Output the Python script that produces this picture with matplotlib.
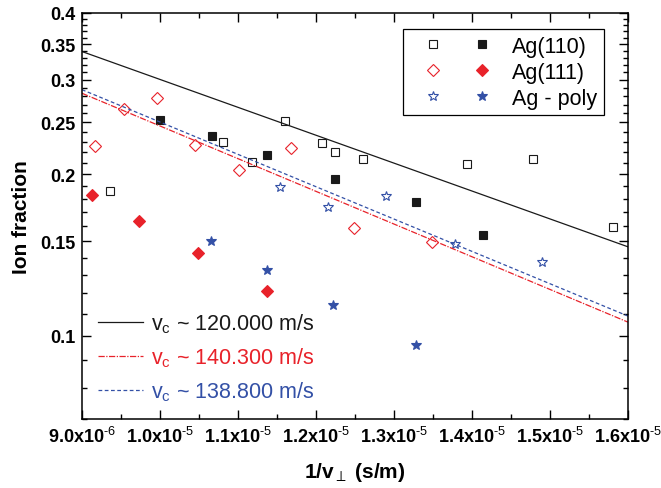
import matplotlib
matplotlib.use("Agg")
import matplotlib.pyplot as plt
import numpy as np
from matplotlib.legend_handler import HandlerTuple
from matplotlib.ticker import FixedLocator, FixedFormatter

plt.rcParams["font.family"] = ["Liberation Sans", "DejaVu Sans"]
plt.rcParams["mathtext.fontset"] = "custom"
plt.rcParams["mathtext.rm"] = "Liberation Sans"
plt.rcParams["mathtext.it"] = "Liberation Sans:italic"
plt.rcParams["mathtext.bf"] = "Liberation Sans:bold"
plt.rcParams["mathtext.default"] = "regular"

# ── data (x in s/m, ion fraction) ───────────────────────────────────────────
ag110_open_x = [9.359e-6, 1.0804e-5, 1.1183e-5, 1.1603e-5, 1.2073e-5,
                1.2244e-5, 1.2606e-5, 1.3936e-5, 1.4782e-5, 1.5804e-5]
ag110_open_y = [0.1866, 0.2296, 0.2112, 0.2519, 0.2287,
                0.2200, 0.2137, 0.2095, 0.2137, 0.1599]
ag110_fill_x = [1.0000e-5, 1.0663e-5, 1.1368e-5, 1.2244e-5, 1.3282e-5, 1.4137e-5]
ag110_fill_y = [0.2530, 0.2363, 0.2175, 0.1962, 0.1775, 0.1543]

ag111_open_x = [9.167e-6, 9.538e-6, 9.965e-6, 1.0449e-5,
                1.1013e-5, 1.1679e-5, 1.2487e-5, 1.3483e-5]
ag111_open_y = [0.2263, 0.2649, 0.2778, 0.2270, 0.2039, 0.2238, 0.1592, 0.1495]
ag111_fill_x = [9.132e-6, 9.735e-6, 1.0491e-5, 1.1368e-5]
ag111_fill_y = [0.1832, 0.1637, 0.1426, 0.1211]

poly_open_x = [1.1538e-5, 1.2154e-5, 1.2897e-5, 1.3782e-5, 1.4894e-5]
poly_open_y = [0.1898, 0.1736, 0.1822, 0.1481, 0.1376]
poly_fill_x = [1.0656e-5, 1.1368e-5, 1.2222e-5, 1.3282e-5]
poly_fill_y = [0.1500, 0.1328, 0.1144, 0.0962]

# fit lines (end points)
fit_x = [9.0e-6, 1.6e-5]
fit_110_y = [0.3390, 0.1466]
fit_111_y = [0.2834, 0.1061]
fit_poly_y = [0.2878, 0.1089]

fit_labels = ["v$_c$ ~ 120.000 m/s", "v$_c$ ~ 140.300 m/s", "v$_c$ ~ 138.800 m/s"]
series_labels = ["Ag(110)", "Ag(111)", "Ag - poly"]

x_ticks = [9e-6, 1e-5, 1.1e-5, 1.2e-5, 1.3e-5, 1.4e-5, 1.5e-5, 1.6e-5]
x_ticklabels = [r"9.0x10$^{\text{-6}}$", r"1.0x10$^{\text{-5}}$", r"1.1x10$^{\text{-5}}$",
                r"1.2x10$^{\text{-5}}$", r"1.3x10$^{\text{-5}}$", r"1.4x10$^{\text{-5}}$",
                r"1.5x10$^{\text{-5}}$", r"1.6x10$^{\text{-5}}$"]
y_ticks = [0.1, 0.15, 0.2, 0.25, 0.3, 0.35, 0.4]
y_ticklabels = ["0.1", "0.15", "0.2", "0.25", "0.3", "0.35", "0.4"]

BLACK = "#1a1a1a"
RED = "#e8222a"
BLUE = "#3350a6"

# ── figure ──────────────────────────────────────────────────────────────────
fig = plt.figure(figsize=(6.61, 4.89), dpi=100)
ax = fig.add_axes([0.124, 0.1411, 0.826, 0.8303])

ms_sq, ms_d, ms_st = 5.6, 5.8, 7.5
mew = 0.8

h110o, = ax.plot(ag110_open_x, ag110_open_y, "s", ms=ms_sq, mfc="white", mec=BLACK, mew=mew, ls="none")
h110f, = ax.plot(ag110_fill_x, ag110_fill_y, "s", ms=ms_sq, mfc=BLACK, mec=BLACK, mew=mew, ls="none")
h111o, = ax.plot(ag111_open_x, ag111_open_y, "D", ms=ms_d, mfc="white", mec=RED, mew=mew, ls="none")
h111f, = ax.plot(ag111_fill_x, ag111_fill_y, "D", ms=ms_d, mfc=RED, mec=RED, mew=mew, ls="none")
hpo, = ax.plot(poly_open_x, poly_open_y, "*", ms=ms_st, mfc="white", mec=BLUE, mew=mew, ls="none")
hpf, = ax.plot(poly_fill_x, poly_fill_y, "*", ms=ms_st, mfc=BLUE, mec=BLUE, mew=mew, ls="none")

l1, = ax.plot(fit_x, fit_110_y, color=BLACK, lw=0.9, ls="-")
l2, = ax.plot(fit_x, fit_111_y, color=RED, lw=0.9, ls=(0, (5, 1.2, 1, 1.2)))
l3, = ax.plot(fit_x, fit_poly_y, color=BLUE, lw=0.9, ls=(0, (3, 2)))

ax.set_yscale("log")
ax.set_xlim(9e-6, 1.6e-5)
ax.set_ylim(0.07, 0.4)

ax.yaxis.set_major_locator(FixedLocator(y_ticks))
ax.yaxis.set_major_formatter(FixedFormatter(y_ticklabels))
ax.yaxis.set_minor_locator(FixedLocator(np.round(np.arange(0.07, 0.401, 0.01), 3)))
ax.yaxis.set_minor_formatter(FixedFormatter([]))
ax.xaxis.set_major_locator(FixedLocator(x_ticks))
ax.xaxis.set_major_formatter(FixedFormatter(x_ticklabels))
ax.xaxis.set_minor_locator(FixedLocator(np.arange(9e-6, 1.6e-5 + 1e-9, 0.5e-6)))

for s in ax.spines.values():
    s.set_linewidth(1.1)
ax.tick_params(which="both", direction="in", top=True, right=True, width=1.0)
ax.tick_params(which="major", length=6.5, labelsize=13, pad=5)
ax.tick_params(which="minor", length=3.6)
for lab in ax.get_xticklabels() + ax.get_yticklabels():
    lab.set_fontweight("bold")

ax.set_xlabel("1/v$_{\\perp}$ (s/m)", fontsize=15, fontweight="bold", labelpad=10)
ax.set_ylabel("Ion fraction", fontsize=15, fontweight="bold", labelpad=6)

leg1 = ax.legend([(h110o, h110f), (h111o, h111f), (hpo, hpf)], series_labels,
                 handler_map={tuple: HandlerTuple(ndivide=None, pad=0)},
                 loc="upper right", bbox_to_anchor=(0.956, 0.96), borderaxespad=0,
                 fontsize=15.5, frameon=True, fancybox=False, edgecolor="black",
                 framealpha=1, handlelength=4.5, handletextpad=0.3,
                 borderpad=0.3, labelspacing=0.24)
leg1.get_frame().set_linewidth(0.9)
ax.add_artist(leg1)

ax.legend([l1, l2, l3], fit_labels, loc="lower left", bbox_to_anchor=(-0.006, -0.008),
          fontsize=15.5, frameon=False, handlelength=2.08, handletextpad=0.38,
          labelspacing=0.47, labelcolor="linecolor")

fig.savefig("out.png", dpi=100)
